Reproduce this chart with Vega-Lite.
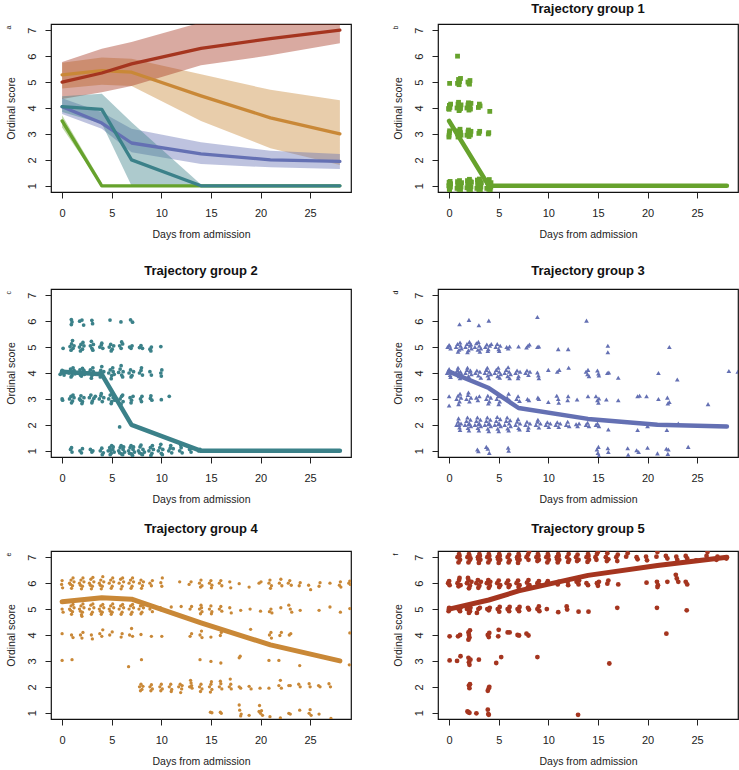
{
"$schema": "https://vega.github.io/schema/vega-lite/v6.json",
"padding": {"left": 4, "top": 2, "right": 0, "bottom": 0},
"config": {
 "font": "Liberation Sans",
 "view": {"stroke": "#111", "strokeWidth": 1.2},
 "axis": {"grid": false, "domain": false, "tickColor": "#222", "tickSize": 6, "labelFontSize": 11, "labelColor": "#222", "titleFontSize": 10.5, "titleFontWeight": "normal", "titleColor": "#222", "labelFlush": false, "labelOverlap": false},
 "axisX": {"labelPadding": 9, "titlePadding": 11},
 "axisY": {"labelAngle": 270, "labelAlign": "center", "labelBaseline": "bottom", "labelPadding": 8, "titlePadding": 10},
 "title": {"fontSize": 13, "fontWeight": "bold", "offset": 8, "color": "#111"}
},
"datasets": {
 "traj": [
  {"g":3,"d":0,"s":4.05},{"g":3,"d":4,"s":3.42},{"g":3,"d":7,"s":2.65},{"g":3,"d":14,"s":2.23},{"g":3,"d":21,"s":2.0},{"g":3,"d":28,"s":1.94},
  {"g":1,"d":0,"s":3.5},{"g":1,"d":4,"s":1},{"g":1,"d":7,"s":1},{"g":1,"d":14,"s":1},{"g":1,"d":21,"s":1},{"g":1,"d":28,"s":1},
  {"g":2,"d":0,"s":4.05},{"g":2,"d":4,"s":3.95},{"g":2,"d":7,"s":2.0},{"g":2,"d":14,"s":1.0},{"g":2,"d":21,"s":1},{"g":2,"d":28,"s":1},
  {"g":4,"d":0,"s":5.28},{"g":4,"d":4,"s":5.44},{"g":4,"d":7,"s":5.38},{"g":4,"d":14,"s":4.47},{"g":4,"d":21,"s":3.62},{"g":4,"d":28,"s":3.0},
  {"g":5,"d":0,"s":5.0},{"g":5,"d":4,"s":5.35},{"g":5,"d":7,"s":5.7},{"g":5,"d":14,"s":6.3},{"g":5,"d":21,"s":6.68},{"g":5,"d":28,"s":7.0}
 ],
 "bands": [
  {"g":4,"d":0,"lo":4.75,"hi":5.75},{"g":4,"d":4,"lo":4.9,"hi":5.95},{"g":4,"d":7,"lo":4.85,"hi":5.9},{"g":4,"d":14,"lo":3.5,"hi":5.3},{"g":4,"d":21,"lo":2.45,"hi":4.7},{"g":4,"d":28,"lo":1.8,"hi":4.3},
  {"g":5,"d":0,"lo":4.35,"hi":5.77},{"g":5,"d":4,"lo":4.61,"hi":6.29},{"g":5,"d":7,"lo":4.85,"hi":6.55},{"g":5,"d":14,"lo":5.65,"hi":7.3},{"g":5,"d":21,"lo":6.03,"hi":7.6},{"g":5,"d":28,"lo":6.5,"hi":7.8},
  {"g":3,"d":0,"lo":3.77,"hi":4.38},{"g":3,"d":4,"lo":3.2,"hi":3.84},{"g":3,"d":7,"lo":2.29,"hi":3.2},{"g":3,"d":14,"lo":1.84,"hi":2.68},{"g":3,"d":21,"lo":1.71,"hi":2.35},{"g":3,"d":28,"lo":1.65,"hi":2.23},
  {"g":2,"d":0,"lo":3.85,"hi":4.45},{"g":2,"d":4,"lo":3.4,"hi":4.55},{"g":2,"d":7,"lo":1.0,"hi":3.45},{"g":2,"d":14,"lo":1.0,"hi":1.05},
  {"g":1,"d":0,"lo":3.25,"hi":3.72},{"g":1,"d":4,"lo":1.0,"hi":1.12}
 ],
 "p1": [
  {"d":0.02,"s":0.88},{"d":0.08,"s":1.04},{"d":0,"s":1.13},{"d":0.13,"s":0.95},{"d":0.05,"s":0.82},{"d":0.1,"s":1.17},{"d":-0.03,"s":1},{"d":0.15,"s":1.08},{"d":0.06,"s":0.93},
  {"d":0.8,"s":0.9},{"d":0.9,"s":1.1},{"d":1,"s":0.86},{"d":1.1,"s":1.05},{"d":1.2,"s":0.95},{"d":0.85,"s":1.16},{"d":1.05,"s":1.2},{"d":1.15,"s":0.83},{"d":0.95,"s":1},{"d":1.25,"s":1.12},{"d":1.02,"s":0.97},{"d":0.88,"s":0.98},
  {"d":1.8,"s":0.92},{"d":1.9,"s":1.12},{"d":2,"s":0.84},{"d":2.1,"s":1.06},{"d":2.2,"s":0.96},{"d":1.85,"s":1.2},{"d":2.05,"s":1.25},{"d":2.15,"s":0.82},{"d":1.95,"s":1},{"d":2.25,"s":1.14},{"d":2.02,"s":0.9},{"d":1.88,"s":1.03},{"d":2.12,"s":1.18},
  {"d":2.8,"s":0.9},{"d":2.9,"s":1.14},{"d":3,"s":0.85},{"d":3.1,"s":1.06},{"d":3.2,"s":0.95},{"d":2.85,"s":1.22},{"d":3.05,"s":1.26},{"d":3.15,"s":0.82},{"d":2.95,"s":1},{"d":3.25,"s":1.12},{"d":3.02,"s":0.93},{"d":2.88,"s":1.04},{"d":3.12,"s":1.19},
  {"d":3.8,"s":0.9},{"d":3.9,"s":1.12},{"d":4,"s":0.86},{"d":4.1,"s":1.05},{"d":4.2,"s":0.95},{"d":3.85,"s":1.2},{"d":4.05,"s":1.24},{"d":4.15,"s":0.84},{"d":3.95,"s":1},{"d":4.22,"s":1.12},
  {"d":-0.02,"s":2.88},{"d":0.02,"s":3.05},{"d":0.05,"s":3.12},{"d":0,"s":2.95},{"d":0.85,"s":3},{"d":0.95,"s":3.12},{"d":1.05,"s":2.92},{"d":1.15,"s":3.05},{"d":0.9,"s":2.88},{"d":1.1,"s":3.18},{"d":1,"s":3.03},{"d":1.2,"s":2.95},
  {"d":1.8,"s":2.95},{"d":1.9,"s":3.08},{"d":2,"s":2.9},{"d":2.1,"s":3.02},{"d":2.2,"s":3.1},{"d":1.95,"s":3.15},{"d":2.15,"s":2.96},{"d":3,"s":3.02},{"d":3.08,"s":3.1},{"d":3.95,"s":3},{"d":4,"s":3.05},
  {"d":-0.05,"s":3.98},{"d":0.03,"s":4.1},{"d":0.08,"s":4.02},{"d":0.15,"s":4.15},{"d":0,"s":3.95},{"d":0.8,"s":4},{"d":0.9,"s":4.15},{"d":1,"s":3.9},{"d":1.1,"s":4.05},{"d":1.2,"s":4.12},{"d":0.95,"s":4.22},{"d":1.05,"s":3.95},{"d":1.15,"s":3.98},
  {"d":1.8,"s":4},{"d":1.9,"s":4.12},{"d":2,"s":3.92},{"d":2.1,"s":4.05},{"d":2.2,"s":4.18},{"d":1.95,"s":4.2},{"d":2.15,"s":3.96},{"d":2.95,"s":4.02},{"d":3.05,"s":4.15},{"d":3.12,"s":4.08},{"d":4.1,"s":3.87},
  {"d":0.05,"s":4.95},{"d":0.85,"s":4.95},{"d":0.95,"s":5.1},{"d":1.05,"s":5.02},{"d":1.15,"s":5.14},{"d":1,"s":4.9},{"d":1.9,"s":5},{"d":2,"s":4.95},{"d":2.1,"s":5.06},{"d":2.05,"s":4.92},
  {"d":0.85,"s":6}
 ],
 "p2": [
  {"d":0.93,"s":6.06},{"d":0.93,"s":5.87},{"d":1,"s":5.97},{"d":1.77,"s":6},{"d":2,"s":6.04},{"d":2.17,"s":5.85},{"d":3,"s":6.03},{"d":3.07,"s":5.9},{"d":4.83,"s":6.04},{"d":5.93,"s":5.97},{"d":6.9,"s":6.05},{"d":7.1,"s":5.96},
  {"d":0.1,"s":4.95},{"d":0.8,"s":5.02},{"d":0.95,"s":5.12},{"d":1.1,"s":4.95},{"d":1.2,"s":5.05},{"d":0.9,"s":4.88},{"d":1.05,"s":5.25},
  {"d":1.75,"s":5},{"d":1.9,"s":5.1},{"d":2.05,"s":4.92},{"d":2.2,"s":5.05},{"d":1.85,"s":4.85},{"d":2.1,"s":5.18},
  {"d":2.85,"s":5.05},{"d":3,"s":4.95},{"d":3.15,"s":5.1},{"d":2.95,"s":5.22},{"d":3.1,"s":4.88},
  {"d":3.8,"s":5},{"d":3.95,"s":5.08},{"d":4.1,"s":4.95},{"d":4,"s":5.15},
  {"d":4.75,"s":5},{"d":4.9,"s":5.1},{"d":5.05,"s":4.92},{"d":5.2,"s":5.05},{"d":4.95,"s":4.85},
  {"d":5.8,"s":5.05},{"d":5.95,"s":4.95},{"d":6.1,"s":5.12},{"d":6,"s":5.2},
  {"d":6.8,"s":5},{"d":6.95,"s":4.95},{"d":7.05,"s":5.05},{"d":7.8,"s":4.98},{"d":7.95,"s":5.06},{"d":8.1,"s":4.95},{"d":8.85,"s":4.92},{"d":9,"s":5},{"d":8.95,"s":4.85},{"d":9.95,"s":5.02},
  {"d":-0.2,"s":3.95},{"d":-0.05,"s":4.05},{"d":0.1,"s":4},{"d":0.2,"s":3.92},{"d":0,"s":4.1},{"d":0.15,"s":4.06},{"d":-0.1,"s":3.98},
  {"d":0.7,"s":4},{"d":0.85,"s":4.15},{"d":1,"s":3.9},{"d":1.15,"s":4.05},{"d":1.3,"s":3.97},{"d":0.9,"s":3.85},{"d":1.1,"s":4.2},{"d":1.2,"s":4.1},{"d":0.95,"s":4.02},
  {"d":1.65,"s":4},{"d":1.8,"s":4.12},{"d":1.95,"s":3.88},{"d":2.1,"s":4.05},{"d":2.25,"s":3.95},{"d":1.85,"s":3.92},{"d":2.05,"s":4.18},{"d":2.2,"s":4.1},{"d":2,"s":4},
  {"d":2.7,"s":4.02},{"d":2.85,"s":4.12},{"d":3,"s":3.9},{"d":3.15,"s":4.05},{"d":2.95,"s":3.8},{"d":3.1,"s":4.2},
  {"d":3.75,"s":4},{"d":3.9,"s":4.1},{"d":4.05,"s":3.92},{"d":4.2,"s":4.05},{"d":4,"s":4.25},{"d":3.85,"s":3.85},
  {"d":4.7,"s":4},{"d":4.85,"s":4.12},{"d":5,"s":3.9},{"d":5.15,"s":4.05},{"d":4.95,"s":3.78},{"d":5.1,"s":4.2},{"d":5.25,"s":3.95},
  {"d":5.7,"s":4.02},{"d":5.85,"s":4.15},{"d":6,"s":3.92},{"d":6.15,"s":4.05},{"d":5.95,"s":4.28},{"d":6.1,"s":3.85},
  {"d":6.75,"s":4},{"d":6.9,"s":4.12},{"d":7.05,"s":3.9},{"d":7.2,"s":4.05},{"d":6.95,"s":3.85},
  {"d":7.8,"s":4},{"d":7.95,"s":4.1},{"d":8.1,"s":3.92},{"d":8,"s":4.2},{"d":8.85,"s":4.05},{"d":9,"s":3.92},{"d":9.95,"s":4},{"d":10,"s":3.88},{"d":10.05,"s":4.12},
  {"d":0,"s":3},{"d":0.05,"s":2.95},
  {"d":0.75,"s":3},{"d":0.9,"s":3.1},{"d":1.05,"s":2.92},{"d":1.2,"s":3.05},{"d":0.95,"s":2.85},{"d":1.1,"s":3.15},
  {"d":1.75,"s":3},{"d":1.9,"s":3.12},{"d":2.05,"s":2.9},{"d":2.2,"s":3.05},{"d":2,"s":2.82},{"d":1.85,"s":2.95},
  {"d":2.75,"s":3.05},{"d":2.9,"s":3.15},{"d":3.05,"s":2.92},{"d":3.2,"s":3.02},{"d":3.35,"s":3.1},{"d":3,"s":2.85},
  {"d":3.75,"s":3},{"d":3.9,"s":3.12},{"d":4.05,"s":2.9},{"d":4.2,"s":3.05},{"d":3.95,"s":3.2},
  {"d":4.7,"s":3},{"d":4.85,"s":3.15},{"d":5,"s":2.9},{"d":5.15,"s":3.05},{"d":5.3,"s":2.95},{"d":4.95,"s":2.82},{"d":5.05,"s":3.2},
  {"d":5.85,"s":3},{"d":6,"s":3.1},{"d":6.15,"s":2.9},{"d":5.95,"s":2.8},{"d":6.1,"s":3.15},
  {"d":6.85,"s":3.05},{"d":7,"s":2.95},{"d":7.15,"s":3.1},{"d":6.95,"s":2.85},
  {"d":7.9,"s":3},{"d":8.05,"s":3.1},{"d":8,"s":2.9},{"d":8.9,"s":3.02},{"d":9.05,"s":2.95},{"d":8.95,"s":3.12},{"d":10,"s":2.97},{"d":10.8,"s":3.1},
  {"d":5.8,"s":1.92},
  {"d":0.85,"s":1.05},{"d":1,"s":0.95},{"d":0.95,"s":1.12},{"d":1.8,"s":1},{"d":1.95,"s":0.92},{"d":2.05,"s":1.08},{"d":2.85,"s":1.05},{"d":3,"s":0.95},{"d":3.1,"s":1},
  {"d":3.85,"s":1},{"d":4,"s":1.1},{"d":4.15,"s":0.92},{"d":4.05,"s":0.85},
  {"d":4.65,"s":1},{"d":4.8,"s":1.12},{"d":4.95,"s":0.9},{"d":5.1,"s":1.05},{"d":5.25,"s":0.95},{"d":4.85,"s":0.85},{"d":5,"s":1.2},{"d":5.15,"s":1.15},{"d":4.9,"s":1.02},
  {"d":5.7,"s":1},{"d":5.85,"s":1.12},{"d":6,"s":0.88},{"d":6.15,"s":1.05},{"d":6.3,"s":0.95},{"d":5.95,"s":1.2},{"d":6.1,"s":0.85},{"d":5.8,"s":0.92},{"d":6.2,"s":1.15},
  {"d":6.7,"s":1},{"d":6.85,"s":1.12},{"d":7,"s":0.88},{"d":7.15,"s":1.05},{"d":7.3,"s":0.95},{"d":6.95,"s":1.2},{"d":7.1,"s":0.82},{"d":6.8,"s":0.9},{"d":7.2,"s":1.15},
  {"d":7.7,"s":1},{"d":7.85,"s":1.15},{"d":8,"s":0.88},{"d":8.15,"s":1.05},{"d":8.3,"s":0.95},{"d":7.95,"s":1.22},{"d":8.1,"s":0.85},{"d":7.8,"s":0.92},
  {"d":8.75,"s":1},{"d":8.9,"s":1.12},{"d":9.05,"s":0.9},{"d":9.2,"s":1.05},{"d":8.95,"s":0.82},{"d":9.1,"s":1.2},
  {"d":9.7,"s":1},{"d":9.85,"s":1.12},{"d":10,"s":0.9},{"d":10.15,"s":1.05},{"d":9.95,"s":1.25},{"d":10.1,"s":0.85},
  {"d":10.75,"s":1},{"d":10.9,"s":1.1},{"d":11.05,"s":0.92},{"d":11.2,"s":1.08},{"d":10.95,"s":1.2},
  {"d":11.85,"s":1},{"d":12,"s":1.12},{"d":12.1,"s":0.92},{"d":11.95,"s":1.22},{"d":12.85,"s":1.05},{"d":13,"s":0.95},{"d":13.1,"s":1.1},{"d":13.75,"s":1},{"d":13.9,"s":1.05}
 ],
 "p3": [
  {"d":1.05,"s":5.88},{"d":2,"s":6.05},{"d":3,"s":5.84},{"d":4,"s":6.02},{"d":8.9,"s":6.16},{"d":13.85,"s":6.02},
  {"d":-0.15,"s":5},{"d":0,"s":5.08},{"d":0.15,"s":4.95},{"d":0.05,"s":5.05},
  {"d":0.7,"s":5},{"d":0.85,"s":5.12},{"d":1,"s":4.9},{"d":1.15,"s":5.05},{"d":1.25,"s":4.95},{"d":0.9,"s":4.82},{"d":1.1,"s":5.18},
  {"d":1.65,"s":5},{"d":1.8,"s":5.12},{"d":1.95,"s":4.88},{"d":2.1,"s":5.05},{"d":2.25,"s":4.95},{"d":1.85,"s":4.8},{"d":2.05,"s":5.2},{"d":2.2,"s":5.1},
  {"d":2.6,"s":5},{"d":2.75,"s":5.15},{"d":2.9,"s":4.9},{"d":3.05,"s":5.05},{"d":3.2,"s":4.95},{"d":2.95,"s":5.2},{"d":3.1,"s":4.82},
  {"d":3.65,"s":5},{"d":3.8,"s":5.1},{"d":3.95,"s":4.92},{"d":4.1,"s":5.05},{"d":4.25,"s":5.12},{"d":3.9,"s":4.85},
  {"d":4.7,"s":5},{"d":4.85,"s":5.12},{"d":5,"s":4.92},{"d":5.15,"s":5.05},{"d":5.05,"s":4.85},
  {"d":5.8,"s":5},{"d":5.95,"s":4.95},{"d":6.1,"s":5.02},{"d":7,"s":5.02},{"d":7.8,"s":4.98},{"d":7.95,"s":5.05},{"d":8.1,"s":5.1},{"d":8.9,"s":5},{"d":9.05,"s":5.02},
  {"d":11,"s":4.92},{"d":12,"s":4.92},{"d":16,"s":5.05},{"d":16,"s":4.8},{"d":22.2,"s":5},
  {"d":-0.2,"s":4},{"d":-0.05,"s":4.1},{"d":0.1,"s":3.92},{"d":0.2,"s":4.05},{"d":0,"s":4.15},{"d":0.15,"s":3.85},
  {"d":0.7,"s":4},{"d":0.85,"s":4.12},{"d":1,"s":3.88},{"d":1.15,"s":4.05},{"d":1.25,"s":3.95},{"d":0.9,"s":4.2},{"d":1.1,"s":3.8},{"d":0.95,"s":4.02},
  {"d":1.65,"s":4},{"d":1.8,"s":4.12},{"d":1.95,"s":3.88},{"d":2.1,"s":4.05},{"d":2.25,"s":3.95},{"d":1.85,"s":4.2},{"d":2.05,"s":3.8},{"d":2.15,"s":4.1},
  {"d":2.65,"s":4},{"d":2.8,"s":4.1},{"d":2.95,"s":3.9},{"d":3.1,"s":4.05},{"d":3.2,"s":3.82},
  {"d":3.6,"s":4},{"d":3.75,"s":4.12},{"d":3.9,"s":3.9},{"d":4.05,"s":4.05},{"d":4.2,"s":3.95},{"d":3.85,"s":4.2},{"d":4,"s":3.8},
  {"d":4.6,"s":4},{"d":4.75,"s":4.12},{"d":4.9,"s":3.88},{"d":5.05,"s":4.05},{"d":5.2,"s":3.95},{"d":4.95,"s":4.2},{"d":5.1,"s":3.82},
  {"d":5.6,"s":4},{"d":5.75,"s":4.12},{"d":5.9,"s":3.88},{"d":6.05,"s":4.05},{"d":6.2,"s":3.95},{"d":5.95,"s":4.22},{"d":6.1,"s":3.8},
  {"d":6.7,"s":4},{"d":6.85,"s":4.1},{"d":7,"s":3.88},{"d":7.15,"s":4.05},{"d":6.95,"s":3.8},
  {"d":7.7,"s":4},{"d":7.85,"s":4.1},{"d":8,"s":3.92},{"d":8.15,"s":4.05},{"d":8.9,"s":4.02},{"d":9,"s":3.9},{"d":9.05,"s":3.8},
  {"d":10,"s":4.12},{"d":10.9,"s":4.05},{"d":11.1,"s":4.12},{"d":12.05,"s":4.2},{"d":13.8,"s":4.05},{"d":13.95,"s":3.95},{"d":14,"s":4.12},{"d":14.1,"s":3.88},
  {"d":14.95,"s":4.1},{"d":15.1,"s":3.9},{"d":15.05,"s":3.98},{"d":15.95,"s":4},{"d":16.1,"s":4.02},{"d":17.05,"s":3.82},{"d":21.1,"s":4},{"d":23,"s":3.75},{"d":28.2,"s":4.08},{"d":29.1,"s":4.05},
  {"d":0,"s":3.1},{"d":0,"s":2.75},
  {"d":0.75,"s":3},{"d":0.9,"s":3.12},{"d":1.05,"s":2.9},{"d":1.2,"s":3.05},{"d":0.95,"s":2.8},{"d":1.1,"s":3.2},
  {"d":1.75,"s":3},{"d":1.9,"s":3.15},{"d":2.05,"s":2.9},{"d":2.2,"s":3.05},{"d":1.95,"s":3.25},
  {"d":2.75,"s":3.05},{"d":2.9,"s":2.95},{"d":3.05,"s":3.1},
  {"d":3.75,"s":3},{"d":3.9,"s":3.12},{"d":4.05,"s":2.9},{"d":4.2,"s":3.05},{"d":3.95,"s":2.82},
  {"d":4.8,"s":3},{"d":4.95,"s":3.1},{"d":5.1,"s":2.9},{"d":5,"s":2.8},
  {"d":5.85,"s":3.05},{"d":6,"s":3.2},{"d":6.1,"s":2.95},{"d":6.8,"s":3},{"d":6.95,"s":3.1},{"d":7.1,"s":2.92},
  {"d":7.9,"s":3},{"d":8.05,"s":2.95},{"d":8.95,"s":3.05},{"d":9.05,"s":3},{"d":10,"s":2.88},{"d":10.85,"s":3.12},{"d":11.05,"s":2.85},{"d":11,"s":3},
  {"d":12,"s":3.1},{"d":11.95,"s":2.95},{"d":12.9,"s":2.98},{"d":14,"s":3.1},{"d":14.8,"s":3.1},{"d":14.95,"s":2.95},{"d":15.05,"s":2.85},{"d":15.1,"s":3.02},
  {"d":15.85,"s":2.98},{"d":17.05,"s":2.95},{"d":19,"s":3.1},{"d":19.2,"s":3.12},{"d":19.9,"s":3.1},{"d":21.1,"s":3},{"d":22,"s":3.05},{"d":22.2,"s":2.88},{"d":22.05,"s":2.82},{"d":26.1,"s":2.8},
  {"d":0.75,"s":2},{"d":0.9,"s":2.12},{"d":1.05,"s":1.9},{"d":1.2,"s":2.05},{"d":0.95,"s":2.25},{"d":1.1,"s":1.8},{"d":1,"s":2},
  {"d":1.6,"s":2},{"d":1.75,"s":2.15},{"d":1.9,"s":1.88},{"d":2.05,"s":2.05},{"d":2.2,"s":1.95},{"d":1.85,"s":2.28},{"d":2,"s":1.78},{"d":2.15,"s":2.2},{"d":1.95,"s":2.02},
  {"d":2.6,"s":2},{"d":2.75,"s":2.15},{"d":2.9,"s":1.88},{"d":3.05,"s":2.05},{"d":3.2,"s":1.95},{"d":2.85,"s":2.28},{"d":3,"s":1.78},{"d":3.15,"s":2.2},{"d":2.95,"s":2.02},
  {"d":3.6,"s":2},{"d":3.75,"s":2.15},{"d":3.9,"s":1.85},{"d":4.05,"s":2.05},{"d":4.2,"s":1.95},{"d":3.85,"s":2.28},{"d":4,"s":1.75},{"d":4.15,"s":2.2},{"d":3.95,"s":2.02},
  {"d":4.6,"s":2},{"d":4.75,"s":2.15},{"d":4.9,"s":1.85},{"d":5.05,"s":2.05},{"d":5.2,"s":1.95},{"d":4.85,"s":2.3},{"d":5,"s":1.75},{"d":5.15,"s":2.22},{"d":4.95,"s":2.02},
  {"d":5.6,"s":2},{"d":5.75,"s":2.15},{"d":5.9,"s":1.86},{"d":6.05,"s":2.05},{"d":6.2,"s":1.95},{"d":5.85,"s":2.28},{"d":6,"s":1.78},{"d":6.15,"s":2.18},
  {"d":6.7,"s":2},{"d":6.85,"s":2.12},{"d":7,"s":1.88},{"d":7.15,"s":2.05},{"d":6.95,"s":2.22},{"d":7.1,"s":1.82},
  {"d":7.7,"s":2},{"d":7.85,"s":2.12},{"d":8,"s":1.9},{"d":8.15,"s":2.05},{"d":7.95,"s":1.8},
  {"d":8.75,"s":2},{"d":8.9,"s":2.12},{"d":9.05,"s":1.9},{"d":9.2,"s":2.05},{"d":8.95,"s":2.2},
  {"d":9.75,"s":2},{"d":9.9,"s":2.1},{"d":10.05,"s":1.92},{"d":10.2,"s":2.05},
  {"d":10.75,"s":2},{"d":10.9,"s":2.1},{"d":11.05,"s":1.92},{"d":11.2,"s":2.05},
  {"d":11.8,"s":2},{"d":11.95,"s":2.12},{"d":12.1,"s":1.95},{"d":12.8,"s":2.02},{"d":12.95,"s":1.95},{"d":13.1,"s":2.05},
  {"d":13.8,"s":2},{"d":13.95,"s":2.08},{"d":14.1,"s":1.95},{"d":14.8,"s":2},{"d":14.95,"s":2.05},{"d":15.1,"s":1.95},
  {"d":16.05,"s":1.82},{"d":19,"s":1.8},{"d":20,"s":1.95},{"d":21.95,"s":1.8},{"d":23.1,"s":2.05},
  {"d":2.85,"s":1.05},{"d":2.95,"s":0.98},{"d":3.75,"s":1.15},{"d":3.9,"s":1.08},{"d":4.05,"s":0.92},{"d":5.95,"s":1.12},{"d":6,"s":1},
  {"d":14.9,"s":1.05},{"d":15,"s":0.92},{"d":15.1,"s":0.82},{"d":15.05,"s":1.15},{"d":16,"s":1.1},{"d":16.05,"s":0.95},{"d":18,"s":1.1},{"d":18.05,"s":0.85},
  {"d":18.9,"s":1.02},{"d":19.1,"s":0.95},{"d":20,"s":1.12},{"d":21,"s":0.9},{"d":21.9,"s":1.08},{"d":22.05,"s":0.88},{"d":22.1,"s":1.05},{"d":24.1,"s":1.15}
 ],
 "p4": [
  {"d":-0.05,"s":5.95},{"d":0,"s":6.1},{"d":0.05,"s":5.82},
  {"d":0.75,"s":6},{"d":0.9,"s":6.12},{"d":1.05,"s":5.9},{"d":1.2,"s":6.05},{"d":0.95,"s":5.8},{"d":1.1,"s":6.2},{"d":0.85,"s":5.95},
  {"d":1.75,"s":6},{"d":1.9,"s":6.12},{"d":2.05,"s":5.88},{"d":2.2,"s":6.05},{"d":1.95,"s":5.78},{"d":2.1,"s":6.2},{"d":1.85,"s":5.92},
  {"d":2.75,"s":6},{"d":2.9,"s":6.15},{"d":3.05,"s":5.88},{"d":3.2,"s":6.05},{"d":2.95,"s":5.78},{"d":3.1,"s":6.22},{"d":2.85,"s":5.92},
  {"d":3.75,"s":6},{"d":3.9,"s":6.12},{"d":4.05,"s":5.88},{"d":4.2,"s":6.05},{"d":3.95,"s":5.78},{"d":4.1,"s":6.25},{"d":3.85,"s":5.92},
  {"d":4.75,"s":6},{"d":4.9,"s":6.12},{"d":5.05,"s":5.88},{"d":5.2,"s":6.05},{"d":4.95,"s":5.8},{"d":5.1,"s":6.2},
  {"d":5.75,"s":6},{"d":5.9,"s":6.15},{"d":6.05,"s":5.88},{"d":6.2,"s":6.05},{"d":5.95,"s":5.78},{"d":6.1,"s":6.2},
  {"d":6.75,"s":6},{"d":6.9,"s":6.12},{"d":7.05,"s":5.88},{"d":7.2,"s":6.05},{"d":6.95,"s":5.8},{"d":7.1,"s":6.2},
  {"d":7.8,"s":6},{"d":7.95,"s":6.12},{"d":8.1,"s":5.9},{"d":8.2,"s":6.05},{"d":8,"s":5.8},
  {"d":8.85,"s":6},{"d":9,"s":5.9},{"d":9.1,"s":6.1},{"d":9.95,"s":6.02},{"d":10.05,"s":5.88},{"d":10.1,"s":6.2},{"d":11.85,"s":6.05},{"d":12.8,"s":5.95},{"d":13,"s":6.05},
  {"d":13.85,"s":6},{"d":14,"s":6.12},{"d":14.1,"s":5.9},{"d":13.95,"s":5.85},{"d":14.85,"s":6},{"d":15,"s":6.1},{"d":15.1,"s":5.92},{"d":15.05,"s":5.82},
  {"d":15.85,"s":6},{"d":16,"s":6.1},{"d":16.1,"s":5.9},{"d":16.9,"s":6.05},{"d":17,"s":5.82},{"d":17.85,"s":5.98},{"d":18.85,"s":5.85},{"d":19.85,"s":6},{"d":20.05,"s":6.05},
  {"d":20.85,"s":6},{"d":20.95,"s":6.12},{"d":21.1,"s":5.9},{"d":21,"s":5.8},{"d":21.9,"s":6},{"d":22.05,"s":6.15},{"d":22.15,"s":5.9},{"d":22.8,"s":6},{"d":22.95,"s":6.1},{"d":23.1,"s":5.92},
  {"d":23.9,"s":5.9},{"d":24,"s":6.02},{"d":24.85,"s":5.92},{"d":25.05,"s":5.75},{"d":26,"s":6.02},{"d":25.9,"s":5.88},{"d":27,"s":6},{"d":28.05,"s":6.05},{"d":27.95,"s":5.92},{"d":28.1,"s":5.85},{"d":28.9,"s":6},{"d":29,"s":6.08},{"d":29.05,"s":5.95},
  {"d":0,"s":5},{"d":0.1,"s":4.88},
  {"d":0.75,"s":5},{"d":0.9,"s":5.12},{"d":1.05,"s":4.9},{"d":1.2,"s":5.05},{"d":0.95,"s":4.8},{"d":1.1,"s":5.18},{"d":0.85,"s":4.95},
  {"d":1.75,"s":5},{"d":1.9,"s":5.12},{"d":2.05,"s":4.88},{"d":2.2,"s":5.05},{"d":1.95,"s":4.78},{"d":2.1,"s":5.2},{"d":1.85,"s":4.92},{"d":2,"s":4.72},
  {"d":2.75,"s":5},{"d":2.9,"s":5.15},{"d":3.05,"s":4.88},{"d":3.2,"s":5.05},{"d":2.95,"s":4.8},{"d":3.1,"s":5.2},
  {"d":3.75,"s":5},{"d":3.9,"s":5.12},{"d":4.05,"s":4.88},{"d":4.2,"s":5.05},{"d":3.95,"s":4.8},{"d":4.1,"s":5.18},{"d":3.85,"s":4.92},
  {"d":4.75,"s":5},{"d":4.9,"s":5.12},{"d":5.05,"s":4.88},{"d":5.2,"s":5.05},{"d":4.95,"s":4.8},{"d":5.1,"s":5.2},{"d":4.85,"s":4.92},
  {"d":5.75,"s":5},{"d":5.9,"s":5.12},{"d":6.05,"s":4.88},{"d":6.2,"s":5.05},{"d":5.95,"s":4.8},{"d":6.1,"s":5.18},
  {"d":6.75,"s":5},{"d":6.9,"s":5.12},{"d":7.05,"s":4.88},{"d":7.2,"s":5.05},{"d":6.95,"s":4.8},{"d":7.1,"s":5.18},
  {"d":7.75,"s":5},{"d":7.9,"s":5.12},{"d":8.05,"s":4.88},{"d":8.2,"s":5.05},{"d":7.95,"s":4.82},{"d":8.1,"s":5.15},
  {"d":8.85,"s":5},{"d":9,"s":5.1},{"d":9.1,"s":4.9},{"d":9.9,"s":5.05},{"d":10.05,"s":4.95},{"d":11,"s":5.08},{"d":12,"s":5.1},{"d":12.9,"s":5},{"d":13.05,"s":5.1},
  {"d":13.85,"s":5},{"d":14,"s":5.15},{"d":14.1,"s":4.9},{"d":13.95,"s":4.82},{"d":14.05,"s":5.05},{"d":14.85,"s":5},{"d":15,"s":5.12},{"d":15.1,"s":4.9},{"d":15.05,"s":4.82},
  {"d":15.85,"s":5},{"d":16,"s":5.1},{"d":16.1,"s":4.92},{"d":16.9,"s":5.05},{"d":17.05,"s":4.85},{"d":18,"s":4.95},{"d":18.95,"s":5},{"d":20,"s":4.92},
  {"d":20.9,"s":4.9},{"d":21.05,"s":5},{"d":21.15,"s":4.85},{"d":22.05,"s":5.05},{"d":22.85,"s":5.15},{"d":23,"s":5},{"d":23.15,"s":4.88},{"d":24,"s":4.95},{"d":25.9,"s":4.95},{"d":27,"s":5.08},{"d":28.05,"s":4.88},{"d":29,"s":5.02},
  {"d":0,"s":4.05},{"d":0.95,"s":4},{"d":1.1,"s":3.9},{"d":1.85,"s":4},{"d":2,"s":3.88},{"d":2.1,"s":4.1},{"d":2.95,"s":4},{"d":3.05,"s":3.85},{"d":3.8,"s":4.05},{"d":4,"s":3.95},{"d":4.1,"s":4.2},
  {"d":4.8,"s":4},{"d":5.05,"s":4.12},{"d":5.95,"s":3.92},{"d":6.05,"s":4.05},{"d":6.8,"s":4},{"d":7,"s":4.25},{"d":7.1,"s":3.95},{"d":7.95,"s":4.02},{"d":9,"s":3.95},{"d":10.05,"s":3.95},
  {"d":12.9,"s":3.95},{"d":13.05,"s":4.05},{"d":13.9,"s":4},{"d":14.05,"s":4.15},{"d":14.1,"s":3.9},{"d":15,"s":3.92},{"d":15.95,"s":3.98},{"d":16.05,"s":4.1},{"d":19,"s":4.22},
  {"d":20.9,"s":4},{"d":21.05,"s":4.1},{"d":21.1,"s":3.88},{"d":21.95,"s":3.98},{"d":22.1,"s":4.1},{"d":22.9,"s":4},{"d":23.05,"s":4.05},{"d":29,"s":4.08},
  {"d":0,"s":3.02},{"d":1,"s":3.05},{"d":6.7,"s":2.78},{"d":8,"s":3.05},{"d":13.9,"s":3.05},{"d":15,"s":2.98},{"d":16,"s":2.92},{"d":17.85,"s":3.12},{"d":17.95,"s":3.18},{"d":20.85,"s":3.02},{"d":21.85,"s":3.02},{"d":23.95,"s":2.82},{"d":28.95,"s":2.85},
  {"d":7.8,"s":2},{"d":7.95,"s":2.1},{"d":8.05,"s":1.9},{"d":8.15,"s":2.02},{"d":7.9,"s":1.85},
  {"d":8.85,"s":2},{"d":9,"s":2.08},{"d":9.1,"s":1.92},{"d":8.95,"s":1.85},{"d":9.85,"s":2},{"d":10,"s":2.1},{"d":10.1,"s":1.92},{"d":9.95,"s":1.85},
  {"d":10.8,"s":2},{"d":10.95,"s":2.1},{"d":11.05,"s":1.9},{"d":11,"s":1.82},{"d":11.75,"s":2},{"d":11.9,"s":2.1},{"d":12.05,"s":1.92},{"d":11.95,"s":1.78},{"d":12.1,"s":2.05},
  {"d":12.85,"s":2},{"d":13,"s":2.15},{"d":13.1,"s":1.95},{"d":12.95,"s":2.25},{"d":13.05,"s":2.05},{"d":13.85,"s":2},{"d":14,"s":2.1},{"d":14.1,"s":1.92},{"d":13.95,"s":1.82},
  {"d":14.85,"s":2},{"d":15,"s":2.1},{"d":15.1,"s":1.9},{"d":14.95,"s":1.8},{"d":15.05,"s":2.2},{"d":15.85,"s":2},{"d":16,"s":2.12},{"d":16.1,"s":1.92},{"d":15.95,"s":2.22},
  {"d":16.85,"s":2},{"d":17,"s":2.1},{"d":17.05,"s":1.92},{"d":16.95,"s":2.3},{"d":17.85,"s":2},{"d":18,"s":1.95},{"d":18.85,"s":2.02},{"d":19.05,"s":1.92},{"d":19.95,"s":1.95},{"d":20.85,"s":1.95},
  {"d":21.85,"s":2.05},{"d":22,"s":2.25},{"d":22.1,"s":1.95},{"d":22.85,"s":2.05},{"d":23,"s":2.05},{"d":23.85,"s":2.1},{"d":24,"s":2},{"d":24.9,"s":2.12},{"d":25,"s":2},{"d":25.85,"s":2.05},{"d":26,"s":2},{"d":26.9,"s":2.12},{"d":27.05,"s":2},
  {"d":14.95,"s":1.02},{"d":15.1,"s":1},{"d":15.95,"s":1.02},{"d":16.05,"s":0.98},{"d":17.85,"s":1.3},{"d":17.9,"s":1.1},{"d":18.05,"s":0.95},{"d":18,"s":0.88},{"d":18.85,"s":0.9},
  {"d":19.9,"s":1.28},{"d":19.85,"s":1.05},{"d":20,"s":0.98},{"d":20.1,"s":1.08},{"d":20.2,"s":0.9},{"d":20.95,"s":0.85},{"d":22,"s":0.8},{"d":22.85,"s":0.98},{"d":23,"s":0.95},{"d":23.95,"s":1.1},{"d":25,"s":1.12},{"d":24.9,"s":0.98},{"d":25.1,"s":0.9},{"d":25.9,"s":0.95},{"d":27.1,"s":0.78}
 ],
 "p5": [
  {"d":0.85,"s":7},{"d":1,"s":7.12},{"d":1.1,"s":6.9},{"d":0.95,"s":6.8},{"d":1.05,"s":7.05},
  {"d":1.85,"s":7},{"d":2,"s":7.12},{"d":2.1,"s":6.9},{"d":1.95,"s":6.8},{"d":2.05,"s":7.05},{"d":2.15,"s":6.95},
  {"d":2.9,"s":7},{"d":3.05,"s":7.12},{"d":3.15,"s":6.9},{"d":3,"s":6.78},{"d":3.1,"s":7.05},{"d":2.95,"s":6.92},
  {"d":3.85,"s":7},{"d":4,"s":7.12},{"d":4.1,"s":6.9},{"d":3.95,"s":6.8},{"d":4.05,"s":7.05},
  {"d":4.9,"s":7},{"d":5.05,"s":7.12},{"d":5.15,"s":6.9},{"d":5,"s":6.78},{"d":5.1,"s":7.05},{"d":4.95,"s":6.92},
  {"d":5.9,"s":7},{"d":6.05,"s":7.1},{"d":6.1,"s":6.88},{"d":6,"s":6.8},
  {"d":6.85,"s":7},{"d":7,"s":7.12},{"d":7.1,"s":6.9},{"d":6.95,"s":6.78},{"d":7.05,"s":7.05},{"d":6.9,"s":6.92},
  {"d":7.8,"s":7},{"d":7.95,"s":7.1},{"d":8,"s":6.9},{"d":8.05,"s":7.2},
  {"d":8.8,"s":7},{"d":8.95,"s":7.12},{"d":9.05,"s":6.9},{"d":8.9,"s":6.85},{"d":9,"s":7.05},
  {"d":9.8,"s":7},{"d":9.95,"s":7.12},{"d":10.05,"s":6.9},{"d":9.9,"s":6.8},{"d":10,"s":7.05},
  {"d":10.85,"s":7},{"d":11,"s":7.12},{"d":11.1,"s":6.9},{"d":10.95,"s":6.8},{"d":11.05,"s":7.05},{"d":10.9,"s":6.92},
  {"d":11.9,"s":7},{"d":12.05,"s":7.12},{"d":12.1,"s":6.9},{"d":12,"s":6.82},
  {"d":12.8,"s":7},{"d":12.95,"s":7.1},{"d":13.05,"s":6.9},{"d":12.9,"s":6.85},
  {"d":13.85,"s":7},{"d":14,"s":7.12},{"d":14.1,"s":6.9},{"d":13.95,"s":6.82},{"d":14.05,"s":7.05},
  {"d":14.75,"s":7},{"d":14.9,"s":7.12},{"d":14.85,"s":6.9},{"d":15,"s":7.2},
  {"d":15.8,"s":7},{"d":15.95,"s":7.15},{"d":16.05,"s":6.92},{"d":15.9,"s":6.85},
  {"d":16.85,"s":7},{"d":17,"s":7.1},{"d":16.95,"s":6.85},
  {"d":17.85,"s":7.02},{"d":18,"s":7.15},{"d":18.9,"s":7},{"d":19,"s":6.92},{"d":19.85,"s":7.02},{"d":19.95,"s":6.88},{"d":20.9,"s":7.02},{"d":21,"s":7.2},
  {"d":21.85,"s":7.05},{"d":22,"s":6.95},{"d":22.9,"s":7.02},{"d":23,"s":6.9},{"d":23.85,"s":7.05},{"d":24,"s":6.95},{"d":24.9,"s":6.88},{"d":25.95,"s":7.05},{"d":26.05,"s":7.2},{"d":26.95,"s":6.9},{"d":27.05,"s":7.02},{"d":27.95,"s":6.95},
  {"d":-0.1,"s":6},{"d":0.05,"s":5.92},{"d":0,"s":6.08},
  {"d":0.85,"s":6},{"d":1,"s":6.12},{"d":1.15,"s":5.92},{"d":1.05,"s":6.2},{"d":0.95,"s":5.88},
  {"d":1.8,"s":6},{"d":1.95,"s":6.12},{"d":2.1,"s":5.9},{"d":2.25,"s":6.05},{"d":2,"s":5.8},{"d":1.9,"s":6.2},
  {"d":2.75,"s":6},{"d":2.9,"s":6.12},{"d":3.05,"s":5.9},{"d":3.2,"s":6.05},{"d":2.95,"s":5.82},
  {"d":3.8,"s":6},{"d":3.95,"s":6.12},{"d":4.1,"s":5.9},{"d":4,"s":5.82},{"d":4.15,"s":6.05},
  {"d":4.85,"s":6},{"d":5,"s":6.1},{"d":5.15,"s":5.92},{"d":5.05,"s":5.85},
  {"d":5.8,"s":6},{"d":5.95,"s":6.1},{"d":6.1,"s":5.92},{"d":6,"s":5.85},
  {"d":6.8,"s":6},{"d":6.95,"s":6.1},{"d":7.1,"s":5.92},{"d":7,"s":5.85},
  {"d":7.85,"s":6.02},{"d":8,"s":6.12},{"d":8.1,"s":5.92},{"d":7.95,"s":5.85},
  {"d":8.9,"s":6},{"d":9.05,"s":6.08},{"d":9.15,"s":5.92},{"d":9.85,"s":6},{"d":9.95,"s":6.08},{"d":10.95,"s":5.95},{"d":11.05,"s":6.05},{"d":11.95,"s":6.05},{"d":12,"s":5.92},
  {"d":12.85,"s":6.05},{"d":13.05,"s":5.95},{"d":13.1,"s":6.1},{"d":13.85,"s":6},{"d":14,"s":5.92},{"d":14.9,"s":6},{"d":15.1,"s":6.05},{"d":15,"s":5.9},{"d":16.05,"s":6.1},{"d":15.95,"s":5.98},{"d":17.05,"s":5.95},
  {"d":19.9,"s":6.02},{"d":20.95,"s":6.05},{"d":21.05,"s":5.92},{"d":21,"s":5.85},{"d":22,"s":6.05},{"d":22.85,"s":6.32},{"d":22.95,"s":6.18},{"d":23.1,"s":6.05},{"d":23.85,"s":6.05},{"d":24,"s":5.95},
  {"d":0,"s":5.05},{"d":-0.05,"s":4.92},{"d":0.05,"s":5},{"d":0.95,"s":5},{"d":1.1,"s":4.92},{"d":1.15,"s":5.05},
  {"d":1.8,"s":5},{"d":1.95,"s":5.1},{"d":2.1,"s":4.92},{"d":2,"s":4.85},{"d":2.15,"s":5.05},{"d":2.8,"s":4.85},{"d":2.95,"s":5},{"d":3.1,"s":5.05},
  {"d":3.85,"s":5},{"d":4,"s":4.95},{"d":4.1,"s":5.05},{"d":4.9,"s":5},{"d":5.05,"s":4.9},{"d":5.1,"s":5.08},{"d":5.9,"s":5},{"d":6.05,"s":4.92},{"d":6.1,"s":5.08},
  {"d":6.9,"s":5},{"d":7.05,"s":4.92},{"d":7.1,"s":5.08},{"d":7.95,"s":5.05},{"d":8.05,"s":4.98},{"d":8.9,"s":5},{"d":9.05,"s":5.1},{"d":9.1,"s":4.92},{"d":9.85,"s":5},
  {"d":11,"s":4.88},{"d":11.85,"s":5.1},{"d":11.9,"s":4.98},{"d":13.05,"s":4.9},{"d":14.05,"s":4.9},{"d":16.95,"s":5.05},{"d":20.95,"s":5.05},{"d":23.95,"s":4.95},
  {"d":0.05,"s":3.95},{"d":0.9,"s":3.95},{"d":1.1,"s":4},{"d":1.95,"s":4.1},{"d":2.05,"s":3.9},{"d":2,"s":4},{"d":2.1,"s":4.18},{"d":1.95,"s":3.82},{"d":3.9,"s":4},{"d":4,"s":3.92},{"d":4.05,"s":4.08},
  {"d":5,"s":4.2},{"d":4.95,"s":3.95},{"d":5.9,"s":4.1},{"d":6.1,"s":4.1},{"d":6.9,"s":4},{"d":7.05,"s":3.98},{"d":7.8,"s":4.05},{"d":8,"s":3.98},{"d":21.9,"s":4.05},
  {"d":0.05,"s":3.02},{"d":0.8,"s":3},{"d":1.15,"s":3.18},{"d":1.95,"s":3.12},{"d":2,"s":2.95},{"d":2.05,"s":2.85},{"d":2.15,"s":3.05},{"d":3,"s":3.05},{"d":4.75,"s":2.92},{"d":5.25,"s":3.15},{"d":8.9,"s":3.15},{"d":16.15,"s":2.9},
  {"d":2,"s":2.05},{"d":2.05,"s":1.95},{"d":2.1,"s":2.1},{"d":3.9,"s":1.85},{"d":4,"s":1.95},{"d":4.05,"s":2},
  {"d":1.85,"s":1.05},{"d":1.95,"s":1.02},{"d":2.05,"s":1},{"d":2.75,"s":0.98},{"d":3.9,"s":1.12},{"d":3.95,"s":0.95},{"d":4,"s":0.92},{"d":13,"s":0.92}
 ]
},
"spacing": 23,
"vconcat": [
 {"hconcat": [
  {"width": 300, "height": 168, "title": {"text": " ", "offset": 8},
   "encoding": {
    "x": {"field": "d", "type": "quantitative", "scale": {"domain": [-1.12, 29.12], "nice": false, "zero": false}, "axis": {"values": [0,5,10,15,20,25], "title": "Days from admission"}},
    "y": {"field": "s", "type": "quantitative", "scale": {"domain": [0.76, 7.24], "nice": false, "zero": false}, "axis": {"values": [1,2,3,4,5,6,7], "title": "Ordinal score"}}
   },
   "layer": [
    {"data": {"name": "bands"}, "mark": {"type": "area", "fillOpacity": 0.42, "clip": true},
     "encoding": {
      "y": {"field": "lo", "type": "quantitative", "scale": {"domain": [0.76, 7.24], "nice": false, "zero": false}, "axis": {"values": [1,2,3,4,5,6,7], "title": "Ordinal score"}},
      "y2": {"field": "hi"},
      "color": {"field": "g", "type": "nominal", "scale": {"domain": [1,2,3,4,5], "range": ["#66a22c", "#3b8189", "#6470b3", "#c98837", "#a5351f"]}, "legend": null}
     }},
    {"data": {"name": "traj"}, "mark": {"type": "line", "strokeWidth": 3.3, "strokeCap": "round", "strokeJoin": "round"},
     "encoding": {"color": {"field": "g", "type": "nominal", "scale": {"domain": [1,2,3,4,5], "range": ["#66a22c", "#3b8189", "#6470b3", "#c98837", "#a5351f"]}, "legend": null}}},
    {"data": {"values": [{"d": -5.35, "s": 7.1, "t": "a"}]}, "mark": {"type": "text", "angle": 270, "fontSize": 7, "fill": "#111", "opacity": 1},
     "encoding": {"text": {"field": "t", "type": "nominal"}}}
   ]},
  {"width": 300, "height": 168, "title": {"text": "Trajectory group 1", "offset": 8},
   "encoding": {
    "x": {"field": "d", "type": "quantitative", "scale": {"domain": [-1.12, 29.12], "nice": false, "zero": false}, "axis": {"values": [0,5,10,15,20,25], "title": "Days from admission"}},
    "y": {"field": "s", "type": "quantitative", "scale": {"domain": [0.76, 7.24], "nice": false, "zero": false}, "axis": {"values": [1,2,3,4,5,6,7], "title": "Ordinal score"}}
   },
   "layer": [
    {"data": {"name": "p1"}, "mark": {"type": "point", "shape": "square", "filled": true, "size": 23, "opacity": 1, "color": "#66a22c", "clip": true}},
    {"data": {"name": "traj"}, "transform": [{"filter": "datum.g == 1"}], "mark": {"type": "line", "strokeWidth": 4.5, "strokeCap": "round", "strokeJoin": "round", "color": "#66a22c"}},
    {"data": {"values": [{"d": -5.35, "s": 7.1, "t": "b"}]}, "mark": {"type": "text", "angle": 270, "fontSize": 7, "fill": "#111", "opacity": 1},
     "encoding": {"text": {"field": "t", "type": "nominal"}}}
   ]}
 ], "spacing": 39},
 {"spacing": 16, "vconcat": [
 {"hconcat": [
  {"width": 300, "height": 168, "title": {"text": "Trajectory group 2", "offset": 11},
   "encoding": {
    "x": {"field": "d", "type": "quantitative", "scale": {"domain": [-1.12, 29.12], "nice": false, "zero": false}, "axis": {"values": [0,5,10,15,20,25], "title": "Days from admission"}},
    "y": {"field": "s", "type": "quantitative", "scale": {"domain": [0.76, 7.24], "nice": false, "zero": false}, "axis": {"values": [1,2,3,4,5,6,7], "title": "Ordinal score"}}
   },
   "layer": [
    {"data": {"name": "p2"}, "mark": {"type": "point", "shape": "circle", "filled": true, "size": 14, "opacity": 1, "color": "#3b8189", "clip": true}},
    {"data": {"name": "traj"}, "transform": [{"filter": "datum.g == 2"}], "mark": {"type": "line", "strokeWidth": 4.5, "strokeCap": "round", "strokeJoin": "round", "color": "#3b8189"}},
    {"data": {"values": [{"d": -5.35, "s": 7.1, "t": "c"}]}, "mark": {"type": "text", "angle": 270, "fontSize": 7, "fill": "#111", "opacity": 1},
     "encoding": {"text": {"field": "t", "type": "nominal"}}}
   ]},
  {"width": 300, "height": 168, "title": {"text": "Trajectory group 3", "offset": 11},
   "encoding": {
    "x": {"field": "d", "type": "quantitative", "scale": {"domain": [-1.12, 29.12], "nice": false, "zero": false}, "axis": {"values": [0,5,10,15,20,25], "title": "Days from admission"}},
    "y": {"field": "s", "type": "quantitative", "scale": {"domain": [0.76, 7.24], "nice": false, "zero": false}, "axis": {"values": [1,2,3,4,5,6,7], "title": "Ordinal score"}}
   },
   "layer": [
    {"data": {"name": "p3"}, "mark": {"type": "point", "shape": "triangle-up", "filled": true, "size": 22, "opacity": 1, "color": "#6470b3", "clip": true}},
    {"data": {"name": "traj"}, "transform": [{"filter": "datum.g == 3"}], "mark": {"type": "line", "strokeWidth": 4.5, "strokeCap": "round", "strokeJoin": "round", "color": "#6470b3"}},
    {"data": {"values": [{"d": -5.35, "s": 7.1, "t": "d"}]}, "mark": {"type": "text", "angle": 270, "fontSize": 7, "fill": "#111", "opacity": 1},
     "encoding": {"text": {"field": "t", "type": "nominal"}}}
   ]}
 ], "spacing": 39},
 {"hconcat": [
  {"width": 300, "height": 168, "title": {"text": "Trajectory group 4", "offset": 15},
   "encoding": {
    "x": {"field": "d", "type": "quantitative", "scale": {"domain": [-1.12, 29.12], "nice": false, "zero": false}, "axis": {"values": [0,5,10,15,20,25], "title": "Days from admission"}},
    "y": {"field": "s", "type": "quantitative", "scale": {"domain": [0.76, 7.24], "nice": false, "zero": false}, "axis": {"values": [1,2,3,4,5,6,7], "title": "Ordinal score"}}
   },
   "layer": [
    {"data": {"name": "p4"}, "mark": {"type": "point", "shape": "circle", "filled": true, "size": 11, "opacity": 1, "color": "#c98837", "clip": true}},
    {"data": {"name": "traj"}, "transform": [{"filter": "datum.g == 4"}], "mark": {"type": "line", "strokeWidth": 5, "strokeCap": "round", "strokeJoin": "round", "color": "#c98837"}},
    {"data": {"values": [{"d": -5.35, "s": 7.1, "t": "e"}]}, "mark": {"type": "text", "angle": 270, "fontSize": 7, "fill": "#111", "opacity": 1},
     "encoding": {"text": {"field": "t", "type": "nominal"}}}
   ]},
  {"width": 300, "height": 168, "title": {"text": "Trajectory group 5", "offset": 15},
   "encoding": {
    "x": {"field": "d", "type": "quantitative", "scale": {"domain": [-1.12, 29.12], "nice": false, "zero": false}, "axis": {"values": [0,5,10,15,20,25], "title": "Days from admission"}},
    "y": {"field": "s", "type": "quantitative", "scale": {"domain": [0.76, 7.24], "nice": false, "zero": false}, "axis": {"values": [1,2,3,4,5,6,7], "title": "Ordinal score"}}
   },
   "layer": [
    {"data": {"name": "p5"}, "mark": {"type": "point", "shape": "circle", "filled": true, "size": 23, "opacity": 1, "color": "#a5351f", "clip": true}},
    {"data": {"name": "traj"}, "transform": [{"filter": "datum.g == 5"}], "mark": {"type": "line", "strokeWidth": 5, "strokeCap": "round", "strokeJoin": "round", "color": "#a5351f"}},
    {"data": {"values": [{"d": -5.35, "s": 7.1, "t": "f"}]}, "mark": {"type": "text", "angle": 270, "fontSize": 7, "fill": "#111", "opacity": 1},
     "encoding": {"text": {"field": "t", "type": "nominal"}}}
   ]}
 ], "spacing": 39}
 ]}
]
}
